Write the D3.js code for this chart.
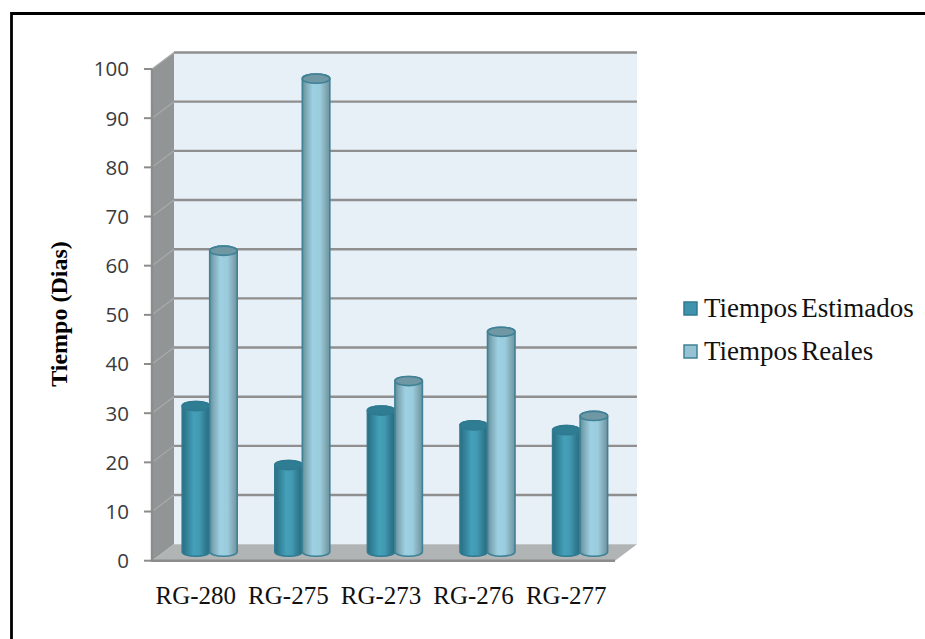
<!DOCTYPE html>
<html>
<head>
<meta charset="utf-8">
<script src="https://cdn.jsdelivr.net/npm/d3@7"></script>
<style>
    html, body { margin: 0; padding: 0; background: #fff; }
    svg { display: block; }
</style>
</head>
<body>
<svg id="chart" width="925" height="639"></svg>
<script>
    'use strict';

    const categories = ['RG-280', 'RG-275', 'RG-273', 'RG-276', 'RG-277'];
    const tiemposEstimados = [29.6, 17.6, 28.7, 25.7, 24.7];
    const tiemposReales = [61.2, 96.2, 34.7, 44.7, 27.6];
    const yTicks = [0, 10, 20, 30, 40, 50, 60, 70, 80, 90, 100];
    const seriesNames = ['Tiempos Estimados', 'Tiempos Reales'];

    var svg = d3.select('#chart');
    var defs = svg.append('defs');

    var depthX = 22;
    var depthY = 16.5;

    var scaleX = d3.scaleBand().domain(categories).range([152, 615]);
    var scaleY = d3.scaleLinear().domain([0, 100]).range([560.7, 69]);

    var serif = '"Liberation Serif", "Times New Roman", serif';

    function addGradient(id, stops) {
        var g = defs.append('linearGradient').attr('id', id)
            .attr('x1', 0).attr('y1', 0)
            .attr('x2', 1).attr('y2', 0);
        stops.forEach(function (s) {
            g.append('stop').attr('offset', s[0]).attr('stop-color', s[1]);
        });
    }

    addGradient('barDark', [[0, '#2c6d80'], [0.12, '#2f7c92'], [0.42, '#44a0b9'], [0.62, '#429ab2'], [0.85, '#2f7b90'], [1, '#2a6b7e']]);
    addGradient('barLight', [[0, '#5f8e9c'], [0.14, '#7fa9b6'], [0.38, '#9dd0e2'], [0.65, '#9accdd'], [0.88, '#7fa5b1'], [1, '#6b94a2']]);

    // frame of the pasted picture
    svg.append('path')
        .attr('d', 'M11.5,639V13.5H925')
        .attr('fill', 'none')
        .attr('stroke', '#000')
        .attr('stroke-width', 2.8);

    var frontLeft = scaleX.range()[0];
    var frontRight = scaleX.range()[1];
    var backX = frontLeft + depthX;
    var backRight = frontRight + depthX;

    var wall = svg.append('g').attr('class', 'walls');

    wall.append('rect')
        .attr('x', backX)
        .attr('y', scaleY(100) - depthY)
        .attr('width', backRight - backX)
        .attr('height', scaleY(0) - scaleY(100))
        .attr('fill', '#e8f0f7');

    wall.append('path')
        .attr('d', d3.line()([
            [frontLeft, scaleY(100)],
            [backX, scaleY(100) - depthY],
            [backX, scaleY(0) - depthY],
            [frontLeft, scaleY(0)]
        ]) + 'Z')
        .attr('fill', '#919595');

    wall.append('path')
        .attr('d', d3.line()([
            [frontLeft, scaleY(0)],
            [backX, scaleY(0) - depthY],
            [backRight, scaleY(0) - depthY],
            [frontRight, scaleY(0)]
        ]) + 'Z')
        .attr('fill', '#b1b4b5');

    var grid = svg.append('g').attr('class', 'grid');

    yTicks.forEach(function (t) {
        var y = scaleY(t);

        if (t > 0) {
            grid.append('path')
                .attr('d', d3.line()([[backX, y - depthY], [backRight, y - depthY]]))
                .attr('fill', 'none')
                .attr('stroke', '#8f8f8f')
                .attr('stroke-width', 2.4);

            grid.append('path')
                .attr('d', d3.line()([[frontLeft, y], [backX, y - depthY]]))
                .attr('fill', 'none')
                .attr('stroke', '#a8abab')
                .attr('stroke-width', 1.2);
        }

        grid.append('line')
            .attr('x1', 144).attr('x2', frontLeft)
            .attr('y1', y).attr('y2', y)
            .attr('stroke', '#8c8c8c')
            .attr('stroke-width', 2);

        grid.append('text')
            .attr('x', 129)
            .attr('y', y + 7.4)
            .attr('text-anchor', 'end')
            .attr('font-family', '"Open Sans", sans-serif')
            .attr('font-size', 20.5)
            .attr('fill', '#3b3b3b')
            .text(t);
    });

    svg.append('path')
        .attr('d', d3.line()([
            [frontLeft, scaleY(100)],
            [frontLeft, scaleY(0)],
            [frontRight, scaleY(0)]
        ]))
        .attr('fill', 'none')
        .attr('stroke', '#8c8c8c')
        .attr('stroke-width', 2.4);

    function drawCylinder(group, x, width, value, fill, topFill, edge) {
        var rx = width / 2;
        var ry = 4.6;
        var baseY = scaleY(0) - depthY / 2 - 0.8;
        var topY = baseY - (scaleY(0) - scaleY(value));
        var d = 'M' + x + ',' + topY +
            'L' + x + ',' + baseY +
            'A' + rx + ',' + ry + ' 0 0 0 ' + (x + width) + ',' + baseY +
            'L' + (x + width) + ',' + topY +
            'A' + rx + ',' + ry + ' 0 0 0 ' + x + ',' + topY + 'Z';

        group.append('path')
            .attr('d', d)
            .attr('fill', fill)
            .attr('stroke', edge)
            .attr('stroke-width', 1.6);

        group.append('ellipse')
            .attr('cx', x + rx)
            .attr('cy', topY)
            .attr('rx', rx)
            .attr('ry', ry)
            .attr('fill', topFill)
            .attr('stroke', edge)
            .attr('stroke-width', 1.6);
    }

    var bars = svg.append('g').attr('class', 'bars');

    categories.forEach(function (c, i) {
        var x0 = scaleX(c) + 30.2;
        var barWidth = 27.5;
        // the reales bar sits over the estimados bar
        drawCylinder(bars, x0, barWidth, tiemposEstimados[i], 'url(#barDark)', '#2f7d93', '#2f7a90');
        drawCylinder(bars, x0 + barWidth, barWidth, tiemposReales[i], 'url(#barLight)', '#6f98a4', '#3f8196');

        svg.append('text')
            .attr('x', scaleX(c) + scaleX.bandwidth() / 2 - 2.5)
            .attr('y', 604)
            .attr('text-anchor', 'middle')
            .attr('font-family', serif)
            .attr('font-size', 25)
            .attr('fill', '#111')
            .text(c);
    });

    svg.append('text')
        .attr('transform', 'translate(67.3,314) rotate(-90)')
        .attr('text-anchor', 'middle')
        .attr('font-family', serif)
        .attr('font-weight', 'bold')
        .attr('font-size', 24)
        .attr('fill', '#000')
        .text('Tiempo (Dias)');

    var legendY = [309, 352];
    var legendFill = ['#3f93ad', '#95c3d4'];
    var legendEdge = ['#2f7a90', '#3f8196'];

    seriesNames.forEach(function (name, i) {
        svg.append('rect')
            .attr('x', 684)
            .attr('y', legendY[i] - 7)
            .attr('width', 13)
            .attr('height', 13)
            .attr('fill', legendFill[i])
            .attr('stroke', legendEdge[i])
            .attr('stroke-width', 1.5);

        svg.append('text')
            .attr('x', 704)
            .attr('y', legendY[i] + 8)
            .attr('font-family', serif)
            .attr('font-size', 27)
            .attr('word-spacing', -3)
            .attr('fill', '#111')
            .text(name);
    });
</script>
</body>
</html>
